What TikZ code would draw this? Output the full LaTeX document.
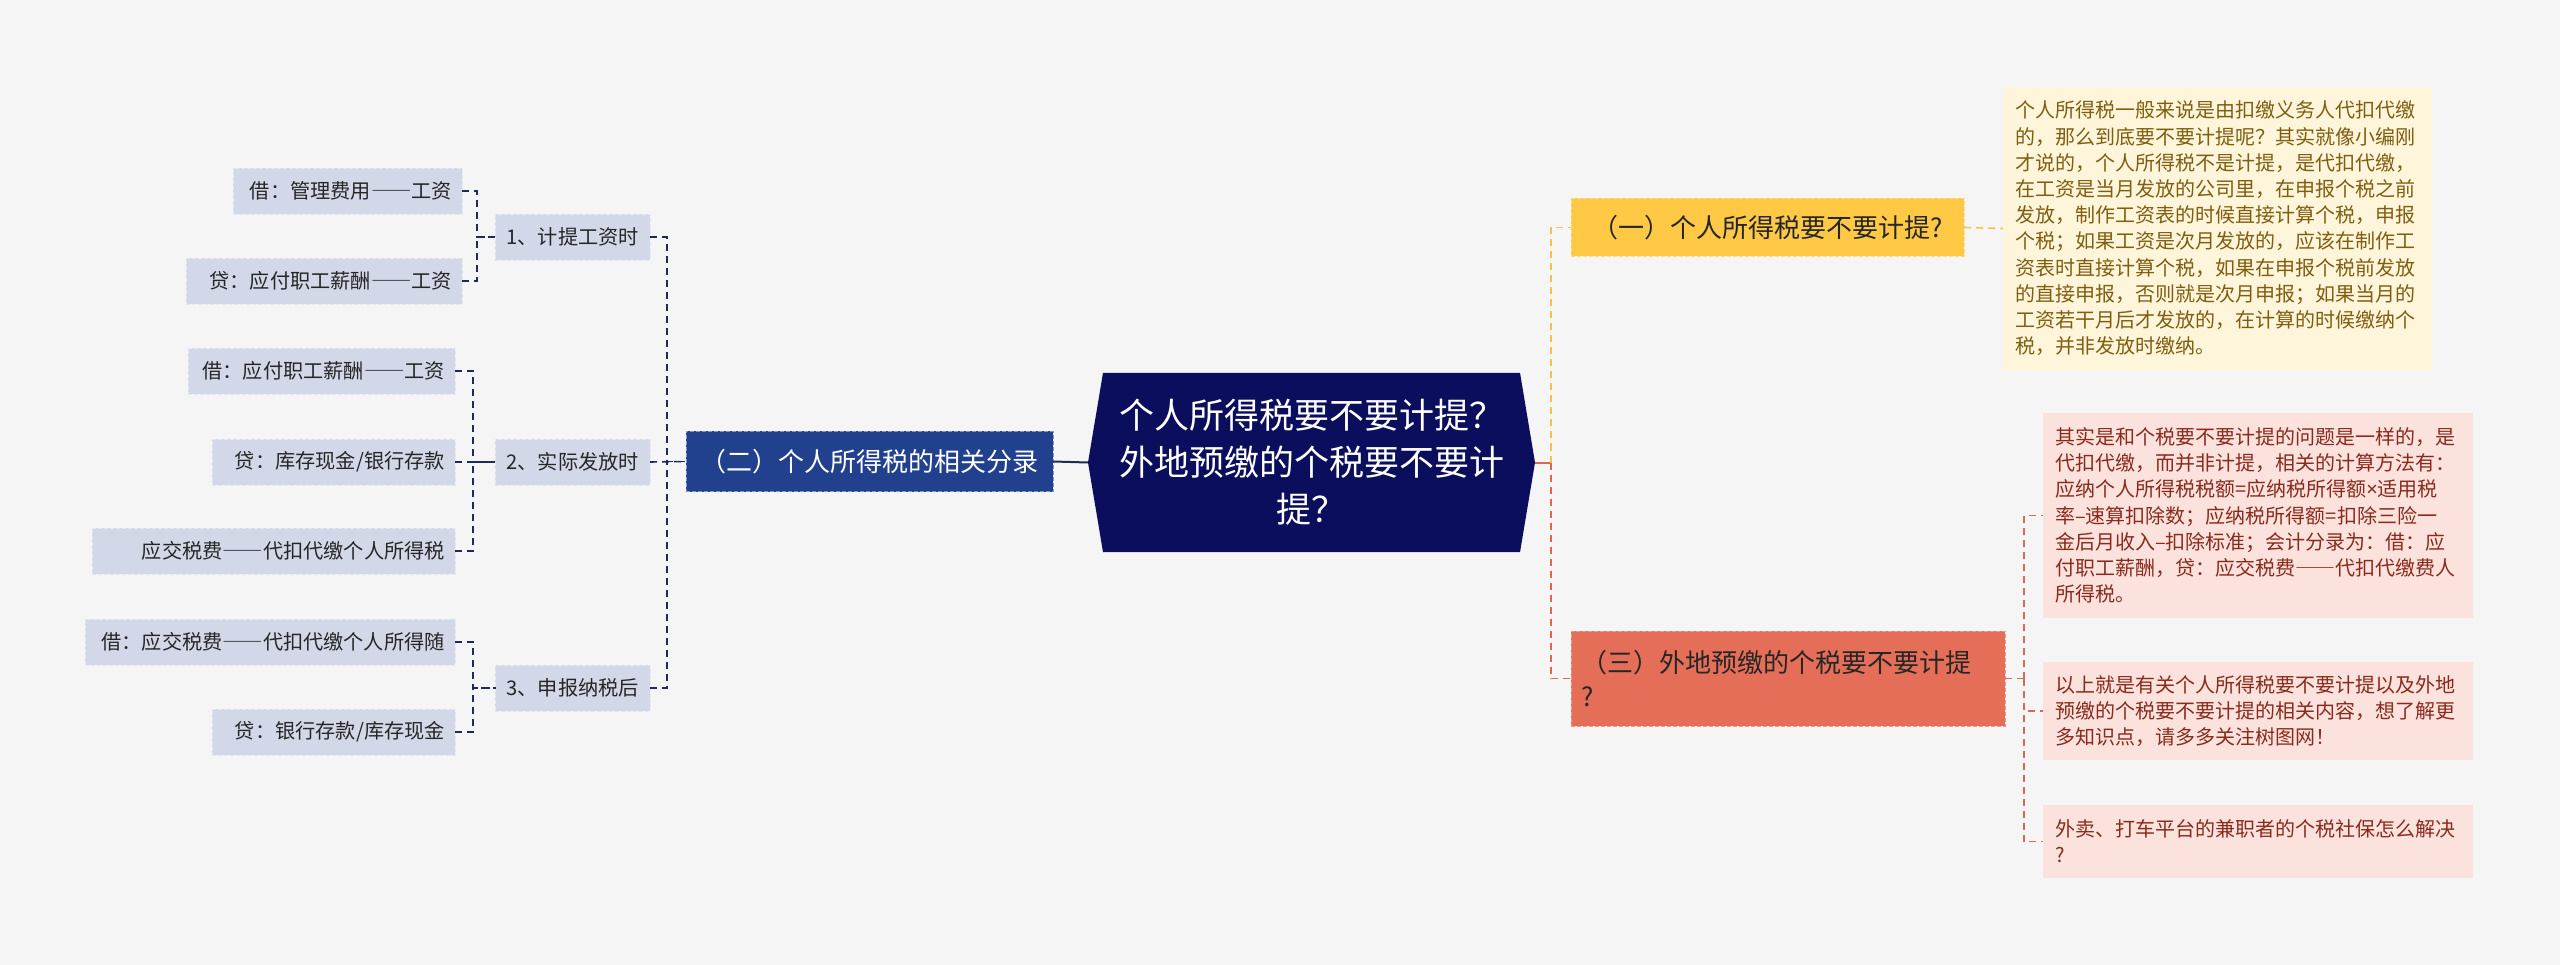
\documentclass[tikz,border=0pt]{standalone}
\usepackage{fontspec}
\setmainfont{Noto Sans CJK SC}
\newfontfamily\fullwidth[RawFeature=+fwid]{Noto Sans CJK SC}
\newfontfamily\latinfont{Noto Sans}
\newcommand{\longdash}{{\fullwidth ——}}
\usetikzlibrary{shapes.symbols}
\definecolor{bgcol}{HTML}{F5F5F5}
\definecolor{rootcol}{HTML}{0B0E5C}
\definecolor{navycol}{HTML}{21408E}
\definecolor{lcon}{HTML}{1E2A5A}
\definecolor{leafcol}{HTML}{D3D8E9}
\definecolor{leafedge}{HTML}{E4E8F3}
\definecolor{yelcol}{HTML}{FFC845}
\definecolor{yedge}{HTML}{FFDB85}
\definecolor{ycon}{HTML}{F3C34A}
\definecolor{redcol}{HTML}{E56E58}
\definecolor{redge}{HTML}{F09A88}
\definecolor{rcon}{HTML}{D66A55}
\definecolor{ybox}{HTML}{FFF5DB}
\definecolor{ytext}{HTML}{7F5E0F}
\definecolor{rbox}{HTML}{FBE2DD}
\definecolor{rtext}{HTML}{8A2A1C}
\begin{document}
\begin{tikzpicture}[x = 1pt, y = -1pt,
  leaf/.style = {fill = leafcol, draw = leafedge, dash pattern = on 4pt off 2pt, inner xsep = 10pt,
    minimum height = 46pt, anchor = east, align = right, text = black!85,
    font = \fontsize{20.2}{26}\selectfont},
  sub/.style = {leaf, inner xsep = 11pt},
  lline/.style = {lcon, line width = 1.6pt, dash pattern = on 7pt off 5pt},
  yline/.style = {ycon, line width = 1.6pt, dash pattern = on 7pt off 5pt},
  rline/.style = {rcon, line width = 1.6pt, dash pattern = on 7pt off 5pt},
  note/.style = {anchor = west, inner xsep = 12pt, align = left, font = \fontsize{20}{26.2}\selectfont}]
\fill[bgcol] (0,0) rectangle (2560,965);
\useasboundingbox (0,0) rectangle (2560,965);
\node (root) [signal, signal to = east and west, signal pointer angle = 161, fill = rootcol,
  minimum width = 447pt, minimum height = 179pt, text = white, align = center,
  font = \fontsize{35}{47}\selectfont] at (1311.5,462.5)
  {个人所得税要不要计提？\\外地预缴的个税要不要计\\提？};
\node (sec2) [fill = navycol, draw = white!45!navycol, dash pattern = on 4pt off 2pt, minimum width = 367pt,
  minimum height = 60pt, text = white, font = \fontsize{26}{32}\selectfont] at (869.5,461.5)
  {（二）个人所得税的相关分录};
\node (s1) [sub] at (650,237) {1、计提工资时};
\node (s2) [sub] at (650,462) {2、实际发放时};
\node (s3) [sub] at (650,688) {3、申报纳税后};
\node (l1) [leaf, text width = 209pt] at (462,191) {借：管理费用\longdash 工资};
\node (l2) [leaf, text width = 256pt] at (462,281) {贷：应付职工薪酬\longdash 工资};
\node (l3) [leaf, text width = 247pt] at (455,371) {借：应付职工薪酬\longdash 工资};
\node (l4) [leaf, text width = 223pt] at (455,462) {贷：库存现金/银行存款};
\node (l5) [leaf, text width = 343pt] at (455,551) {应交税费\longdash 代扣代缴个人所得税};
\node (l6) [leaf, text width = 350pt] at (455,642) {借：应交税费\longdash 代扣代缴个人所得随};
\node (l7) [leaf, text width = 223pt] at (455,732) {贷：银行存款/库存现金};
\draw[lline] (l1.east) -- ++(15,0) |- (s1.west);
\draw[lline] (l2.east) -- ++(15,0) |- (s1.west);
\draw[lline] (l3.east) -- ++(18,0) |- (s2.west);
\draw[lline] (l4.east) -- (s2.west);
\draw[lline] (l5.east) -- ++(18,0) |- (s2.west);
\draw[lline] (l6.east) -- ++(18,0) |- (s3.west);
\draw[lline] (l7.east) -- ++(18,0) |- (s3.west);
\draw[lline] (s1.east) -- ++(17,0) |- (sec2.west);
\draw[lline] (s2.east) -- (sec2.west);
\draw[lline] (s3.east) -- ++(17,0) |- (sec2.west);
\draw[lcon, line width = 2pt] (sec2.east) -- (root.west);
\node (sec1) [fill = yelcol, draw = yedge, dash pattern = on 4pt off 2pt, minimum width = 393pt,
  minimum height = 58pt, text = black!85, font = \fontsize{26}{32}\selectfont] at (1767.5,227.5)
  {（一）个人所得税要不要计提?};
\node (sec3) [fill = redcol, draw = redge, dash pattern = on 4pt off 2pt, minimum width = 434pt,
  minimum height = 95pt, text width = 414pt, align = left, text = black!85,
  font = \fontsize{26}{34}\selectfont] at (1788,678.5)
  {（三）外地预缴的个税要不要计提\\?};
\node (t1) [note, fill = ybox, text = ytext, text width = 405pt, minimum height = 283pt] at (2003,228.5)
  {个人所得税一般来说是由扣缴义务人代扣代缴\\的，那么到底要不要计提呢？其实就像小编刚\\才说的，个人所得税不是计提，是代扣代缴，\\在工资是当月发放的公司里，在申报个税之前\\发放，制作工资表的时候直接计算个税，申报\\个税；如果工资是次月发放的，应该在制作工\\资表时直接计算个税，如果在申报个税前发放\\的直接申报，否则就是次月申报；如果当月的\\工资若干月后才发放的，在计算的时候缴纳个\\税，并非发放时缴纳。};
\node (t2) [note, fill = rbox, text = rtext, text width = 406pt, minimum height = 205pt] at (2043,515.5)
  {其实是和个税要不要计提的问题是一样的，是\\代扣代缴，而并非计提，相关的计算方法有：\\应纳个人所得税税额=应纳税所得额{\latinfont ×}适用税\\率–速算扣除数；应纳税所得额=扣除三险一\\金后月收入–扣除标准；会计分录为：借：应\\付职工薪酬，贷：应交税费\longdash 代扣代缴费人\\所得税。};
\node (t3) [note, fill = rbox, text = rtext, text width = 406pt, minimum height = 98pt] at (2043,711)
  {以上就是有关个人所得税要不要计提以及外地\\预缴的个税要不要计提的相关内容，想了解更\\多知识点，请多多关注树图网！};
\node (t4) [note, fill = rbox, text = rtext, text width = 406pt, minimum height = 73pt] at (2043,841.5)
  {外卖、打车平台的兼职者的个税社保怎么解决\\?};
\draw[rcon, line width = 2pt] (root.east) -- ++(16,0) coordinate (rj);
\draw[yline] (rj) |- (sec1.west);
\draw[rline] (rj) |- (sec3.west);
\draw[yline] (sec1.east) -- (t1.west);
\draw[rline] (sec3.east) -- ++(19,0) coordinate (rk);
\draw[rline] (rk) |- (t2.west);
\draw[rline] (rk) |- (t3.west);
\draw[rline] (rk) |- (t4.west);
\end{tikzpicture}
\end{document}
